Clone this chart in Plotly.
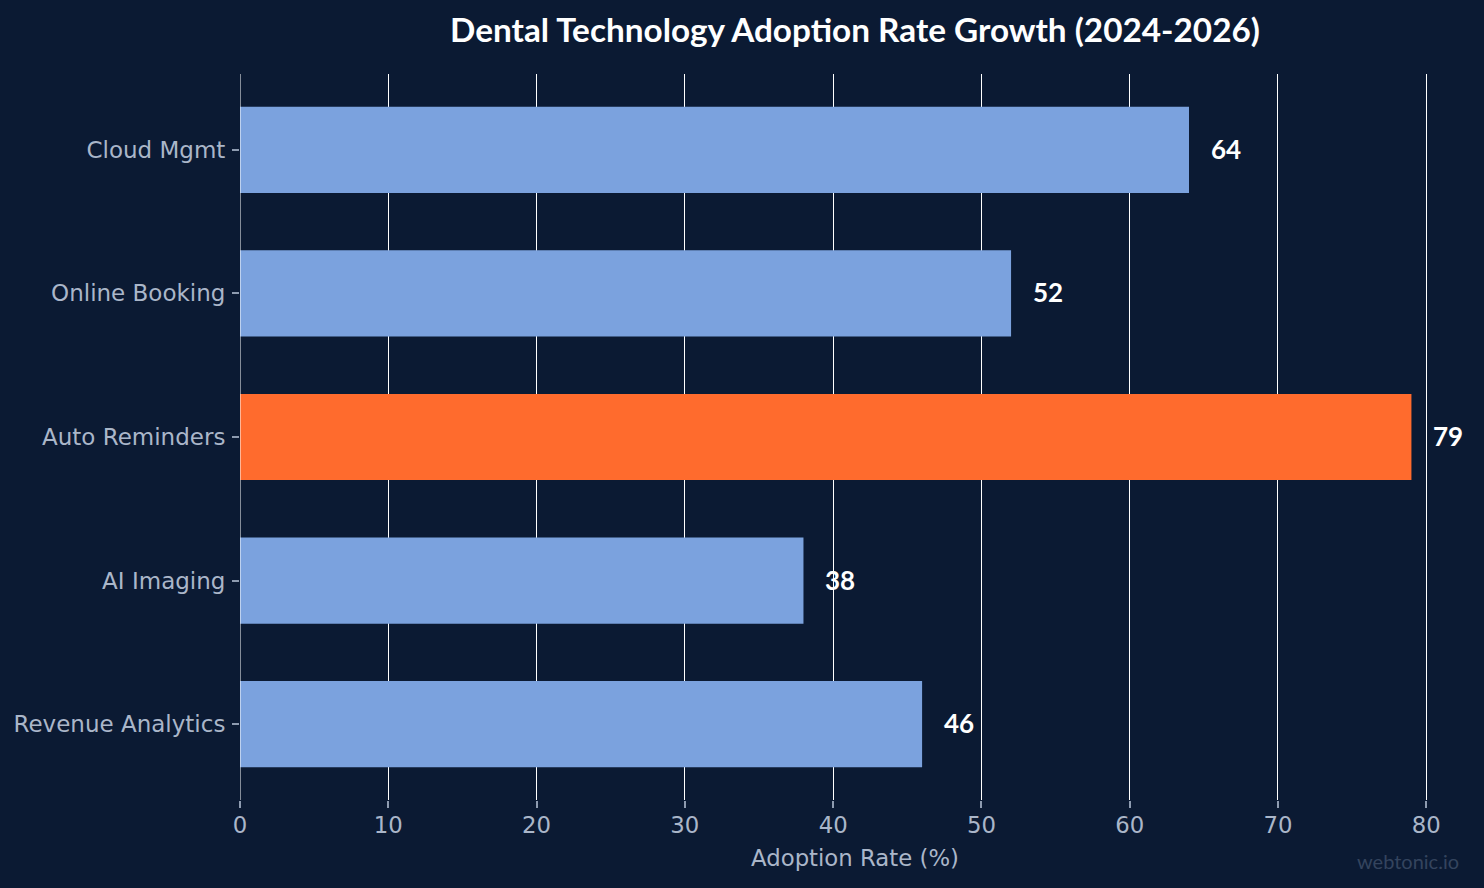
import plotly.graph_objects as go

categories = ["Cloud Mgmt", "Online Booking", "Auto Reminders", "AI Imaging", "Revenue Analytics"]
values = [64, 52, 79, 38, 46]
highlight = "Auto Reminders"
x_ticks = [0, 10, 20, 30, 40, 50, 60, 70, 80]

BG = "#0b1a33"
BLUE = "#7ba2de"
ORANGE = "#ff6b2d"
TICK = "#aab6c9"

colors = [ORANGE if c == highlight else BLUE for c in categories]

fig = go.Figure()
fig.add_trace(go.Bar(
    x=values, y=categories, orientation="h",
    marker=dict(color=colors, line=dict(width=0)),
    width=0.6, hoverinfo="x+y",
))

for c, v in zip(categories, values):
    fig.add_annotation(
        x=v, y=c, text=str(v), showarrow=False,
        xanchor="left", yanchor="middle", xshift=20, yshift=1,
        font=dict(family="Lato", size=26, color="#ffffff", weight="bold"),
    )

fig.add_annotation(
    text="webtonic.io", xref="paper", yref="paper",
    x=1.0, y=0, xanchor="right", yanchor="top", yshift=-47, xshift=-9,
    showarrow=False,
    font=dict(family="Lato", size=20, color="#34445e"),
)

fig.add_shape(type="line", xref="x", yref="paper", x0=0, x1=0, y0=0, y1=1,
              line=dict(color="#ffffff", width=1), layer="above")

fig.update_layout(
    width=1484, height=888,
    paper_bgcolor=BG, plot_bgcolor=BG,
    margin=dict(l=240, r=14, t=74, b=88),
    showlegend=False,
    title=dict(
        text="<b>Dental Technology Adoption Rate Growth (2024-2026)</b>",
        x=0.5, xref="paper", xanchor="center",
        y=1 - 30 / 888, yref="container", yanchor="middle",
        font=dict(family="Lato", size=33.3, color="#ffffff"),
    ),
    xaxis=dict(
        range=[0, max(values) * 1.05],
        tickvals=x_ticks,
        automargin=False,
        showgrid=True, gridcolor="#ffffff", gridwidth=1,
        zeroline=False,
        ticks="outside", ticklen=7, tickcolor="#8e9bb0", tickwidth=2,
        ticklabelstandoff=-2,
        tickfont=dict(family="DejaVu Sans", size=22.8, color=TICK),
        title=dict(text="Adoption Rate (%)", standoff=12,
                   font=dict(family="DejaVu Sans", size=22.8, color=TICK)),
        showline=False,
    ),
    yaxis=dict(
        categoryorder="array", categoryarray=categories,
        range=[4.528, -0.528],
        automargin=False,
        showgrid=False, zeroline=False,
        ticks="outside", ticklen=7, tickcolor="#8e9bb0", tickwidth=2,
        ticklabelstandoff=2,
        tickfont=dict(family="DejaVu Sans", size=23, color=TICK),
        showline=False,
    ),
)

fig.write_html("out.html")
